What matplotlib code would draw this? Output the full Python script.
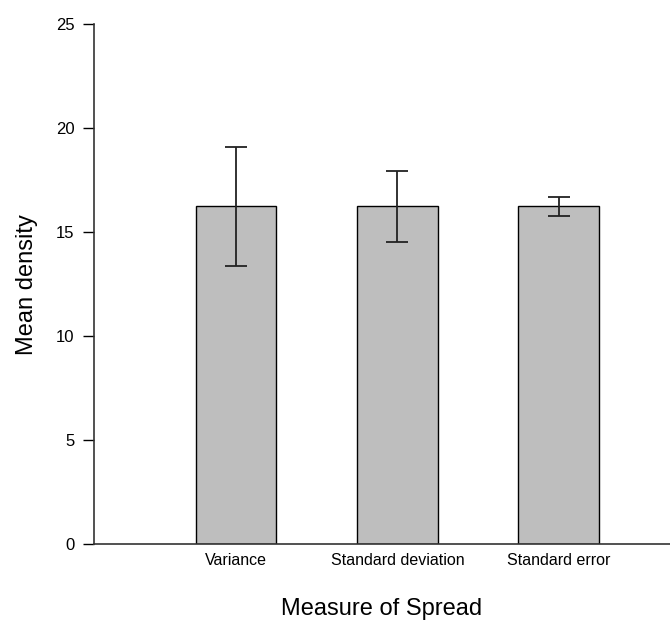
import matplotlib.pyplot as plt
import numpy as np

plt.rcParams['font.family'] = ['Liberation Sans', 'DejaVu Sans']

# data
categories = ['Variance', 'Standard deviation', 'Standard error']
means = [16.25, 16.25, 16.25]
errors = [2.87, 1.72, 0.44]
y_ticks = [0, 5, 10, 15, 20, 25]

fig = plt.figure(figsize=(6.7, 6.26), dpi=100)
ax = fig.add_axes([0.1403, 0.1302, 0.8597, 0.8307])

x = np.arange(1, len(categories) + 1)
ax.bar(x, means, width=0.5, color='#bebebe', edgecolor='black', linewidth=1.0)
ax.errorbar(x, means, yerr=errors, fmt='none', ecolor='#222222',
            elinewidth=1.3, capsize=8, capthick=1.3)

ax.set_xlim(0.12, 3.69)
ax.set_ylim(0, 25)
ax.set_yticks(y_ticks)
ax.set_xticks(x)
ax.set_xticklabels(categories, fontsize=11.5)
ax.tick_params(axis='x', length=0, pad=6)
ax.tick_params(axis='y', length=8, width=1, labelsize=12, pad=6)

for side in ['top', 'right']:
    ax.spines[side].set_visible(False)
for side in ['left', 'bottom']:
    ax.spines[side].set_linewidth(1.2)
    ax.spines[side].set_color('#333333')

ax.set_ylabel('Mean density', fontsize=17, labelpad=13)
ax.set_xlabel('Measure of Spread', fontsize=17, labelpad=22)

plt.savefig('out.png', dpi=100)
